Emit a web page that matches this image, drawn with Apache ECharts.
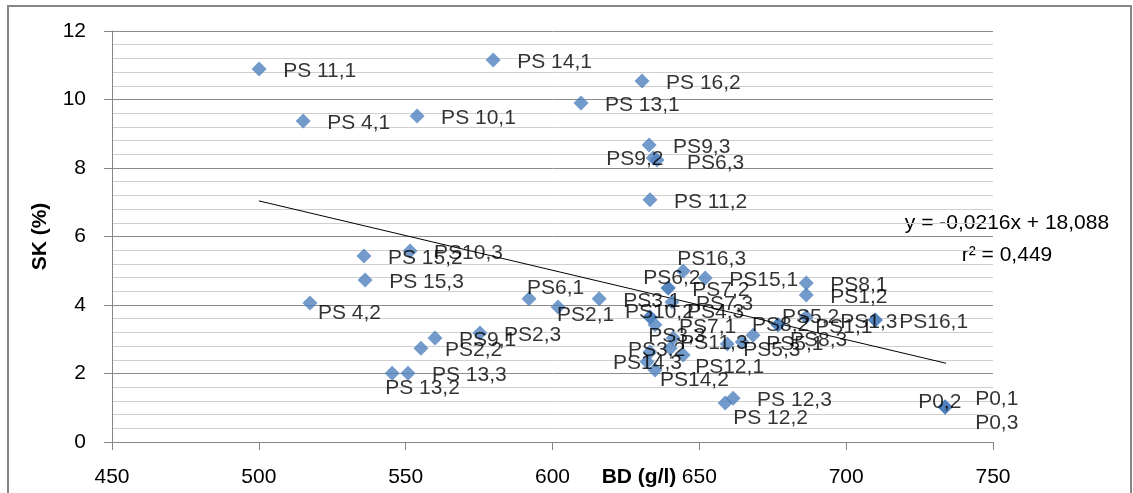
<!DOCTYPE html>
<html>
<head>
<meta charset="utf-8">
<script src="https://cdn.jsdelivr.net/npm/echarts@6/dist/echarts.min.js"></script>
<style>
  html, body { margin: 0; padding: 0; background: #fff; }
  #chart { width: 1133px; height: 493px; }
</style>
</head>
<body>
<div id="chart"></div>
<script>
// sample names, BD (g/l) and SK (%)
const names = [
  "PS 11,1", "PS 14,1", "PS 16,2", "PS 4,1", "PS 10,1", "PS 13,1", "PS9,3", "PS9,2", "PS6,3", "PS 11,2",
  "PS 15,2", "PS10,3", "PS 15,3", "PS 4,2", "PS6,1", "PS2,1", "PS2,3", "PS9,1", "PS2,2", "PS 13,3", "PS 13,2",
  "PS3,1", "PS16,3", "PS15,1", "PS7,2", "PS6,2", "PS7,3", "PS10,2", "PS4,3", "PS7,1", "PS3,3",
  "PS11,3", "PS3,2", "PS14,3", "PS14,2", "PS12,1", "PS5,3", "PS5,1", "PS8,2", "PS5,2", "PS8,3",
  "PS1,1", "PS8,1", "PS1,2", "PS1,3", "PS16,1", "PS 12,2", "PS 12,3", "P0,2", "P0,1", "P0,3"
];
const bd = [
  500.1, 579.8, 630.5, 515.1, 553.9, 609.7, 632.9, 634.3, 635.6, 633.2,
  535.8, 551.5, 536.2, 517.4, 592.0, 601.9, 575.3, 560.0, 555.2, 550.8, 545.4,
  615.9, 644.5, 652.0, 639.4, 639.4, 640.7, 633.2, 633.2, 634.9, 641.1,
  640.1, 633.2, 632.2, 634.9, 644.5, 659.5, 664.6, 668.3, 676.8, 676.8,
  686.4, 686.4, 686.4, 709.9, 709.9, 658.8, 661.5, 733.7, 733.7, 733.7
];
const sk = [
  10.89, 11.15, 10.54, 9.37, 9.52, 9.90, 8.67, 8.29, 8.23, 7.07,
  5.43, 5.58, 4.73, 4.06, 4.18, 3.94, 3.18, 3.04, 2.74, 2.01, 2.01,
  4.18, 4.99, 4.79, 4.50, 4.50, 4.09, 3.65, 3.65, 3.42, 3.04,
  2.74, 2.63, 2.34, 2.10, 2.54, 2.86, 2.92, 3.12, 3.42, 3.42,
  3.65, 4.64, 4.29, 3.56, 3.56, 1.14, 1.28, 1.02, 1.02, 1.02
];

// linear trend line ends, as drawn
const trendX = [500, 734];
const trendY = [7.04, 2.30];
const trendText = ["y = -0,0216x + 18,088", "r² = 0,449"];

const yTicks = [0, 12, 2];
const xTicks = [450, 750, 50];

// labels moved by hand in the original
const labelShift = {
  "PS9,2": [-71, 1], "PS6,3": [6, 3],
  "PS 4,2": [-16, 10], "PS6,1": [-26, -11], "PS2,1": [-25, 8], "PS 13,2": [-31, 15],
  "PS16,3": [-30, -12], "PS6,2": [-49, -10], "PS10,2": [-49, -5], "PS4,3": [13, -5],
  "PS3,3": [-49, -2], "PS11,3": [-14, -5], "PS3,2": [-46, -2], "PS14,3": [-58, 1],
  "PS14,2": [-19, 10], "PS12,1": [-12, 12], "PS5,3": [-8, 6], "PS8,2": [-25, -10],
  "PS5,2": [-20, -8], "PS8,3": [-12, 15], "PS1,1": [-15, 10], "PS1,3": [-59, 2],
  "PS 12,2": [-16, 15], "P0,2": [-51, -5], "P0,1": [6, -8], "P0,3": [6, 16]
};

const FONT = "Liberation Sans";

const points = names.map(function (n, i) {
  return {
    name: n,
    value: [bd[i], sk[i]],
    label: { offset: labelShift[n] || [0, 2] }
  };
});

const chart = echarts.init(document.getElementById("chart"));

const option = {
  animation: false,
  textStyle: { fontFamily: FONT },
  grid: { left: 112, right: 140, top: 31, bottom: 51, outerBoundsMode: 'none' },
  xAxis: {
    type: 'value',
    min: xTicks[0],
    max: xTicks[1],
    interval: xTicks[2],
    name: 'BD (g/l)',
    nameLocation: 'middle',
    nameGap: 25,
    nameMoveOverlap: false,
    nameTextStyle: { fontFamily: FONT, fontSize: 21, fontWeight: 'bold', color: '#000', padding: [0, 0, 0, 173] },
    axisLine: { show: true, lineStyle: { color: '#868686', width: 1 } },
    axisTick: { show: true, length: 8, lineStyle: { color: '#868686' } },
    axisLabel: { fontFamily: FONT, fontSize: 21, color: '#000', margin: 25 },
    splitLine: { show: false }
  },
  yAxis: {
    type: 'value',
    min: yTicks[0],
    max: yTicks[1],
    interval: yTicks[2],
    name: 'SK (%)',
    nameLocation: 'middle',
    nameGap: 61,
    nameMoveOverlap: false,
    nameTextStyle: { fontFamily: FONT, fontSize: 21, fontWeight: 'bold', color: '#000' },
    axisLine: { show: true, lineStyle: { color: '#868686', width: 1 } },
    axisTick: { show: true, length: 8, lineStyle: { color: '#868686' } },
    axisLabel: { fontFamily: FONT, fontSize: 21, color: '#000', margin: 26 },
    splitLine: { show: true, lineStyle: { color: '#8c8c8c', width: 1 } },
    minorTick: { show: false, splitNumber: 5 },
    minorSplitLine: { show: true, lineStyle: { color: '#cfcfcf', width: 1 } }
  },
  graphic: [
    {
      type: 'rect',
      z: -1,
      shape: { x: 8, y: 6, width: 1123, height: 500 },
      style: { fill: 'none', stroke: '#868686', lineWidth: 2 }
    },
    {
      type: 'text',
      x: 1007, y: 223,
      style: { text: trendText[0], font: '21px "' + FONT + '"', fill: '#000', align: 'center', verticalAlign: 'middle' }
    },
    {
      type: 'text',
      x: 1007, y: 255,
      style: { text: trendText[1], font: '21px "' + FONT + '"', fill: '#000', align: 'center', verticalAlign: 'middle' }
    }
  ],
  series: [
    {
      name: 'SK',
      type: 'scatter',
      symbol: 'diamond',
      symbolSize: 15,
      itemStyle: { color: '#4F81BD' },
      label: {
        show: true,
        position: 'right',
        distance: 16.5,
        formatter: '{b}',
        fontFamily: FONT,
        fontSize: 21,
        color: '#000'
      },
      data: points,
      z: 3
    },
    {
      name: 'Trend',
      type: 'line',
      symbol: 'none',
      silent: true,
      lineStyle: { color: '#000', width: 1 },
      data: trendX.map(function (x, i) { return [x, trendY[i]]; }),
      z: 2
    }
  ]
};

chart.setOption(option);
</script>
</body>
</html>
